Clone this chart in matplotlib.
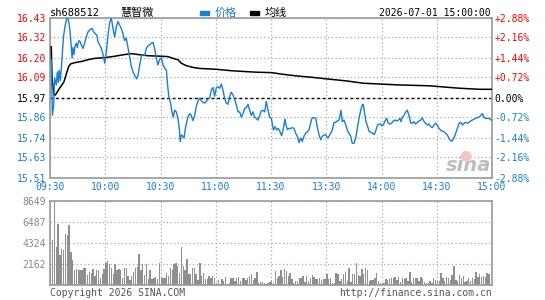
import numpy as np
import matplotlib
matplotlib.use("Agg")
import matplotlib.pyplot as plt

plt.rcParams['font.family'] = ['DejaVu Sans Mono', 'Noto Sans CJK SC']

# ---- data ----
code = "sh688512"
name = "慧智微"
stamp = "2026-07-01 15:00:00"
prev_close = 15.97

price_levels = [16.43, 16.32, 16.20, 16.09, 15.97, 15.86, 15.74, 15.63, 15.51]
pct_labels = ["+2.88%", "+2.16%", "+1.44%", "+0.72%", "0.00%",
              "-0.72%", "-1.44%", "-2.16%", "-2.88%"]
time_labels = ["09:30", "10:00", "10:30", "11:00", "11:30",
               "13:30", "14:00", "14:30", "15:00"]
vol_levels = [2162, 4324, 6487, 8649]

# minute offset from 09:30 (lunch break removed), price
price_min = [0.7, 1.3, 2.0, 2.5, 3.4, 4.0, 4.5, 5.0, 5.6, 6.3, 6.9, 7.4, 8.3, 9.2, 10.0,
             10.7, 11.2, 12.0, 12.5, 13.0, 13.6, 14.3, 14.8, 15.6, 16.3, 17.0, 17.9, 18.8,
             19.7, 20.6, 21.9, 22.8, 23.7, 24.6, 25.5, 26.0, 27.0, 27.9, 28.8, 29.7, 30.6,
             31.5, 32.4, 33.3, 34.2, 35.1, 36.0, 36.9, 37.8, 38.7, 39.6, 40.5, 41.4, 42.4,
             43.3, 44.2, 45.1, 46.0, 47.1, 47.8, 48.7, 49.6, 50.5, 51.4, 52.3, 53.2, 54.1,
             55.0, 55.9, 56.8, 57.7, 58.6, 59.5, 60.5, 61.4, 62.3, 63.2, 63.7, 64.5, 65.5,
             66.2, 66.9, 67.7, 68.6, 69.5, 70.2, 70.7, 71.3, 72.2, 72.8, 73.5, 74.2, 74.9,
             75.8, 76.7, 77.6, 78.6, 79.4, 80.4, 81.3, 82.2, 83.1, 84.0, 84.9, 85.8, 86.7,
             87.6, 88.5, 89.4, 90.3, 91.2, 92.1, 93.0, 93.9, 94.8, 95.7, 96.6, 97.6, 98.4,
             99.4, 100.3, 101.2, 102.1, 103.0, 103.9, 104.8, 105.7, 106.6, 107.5, 108.4,
             109.3, 110.2, 111.1, 112.0, 112.9, 113.9, 114.7, 115.6, 116.6, 117.4, 118.4,
             119.3, 120.2, 121.3, 122.2, 123.1, 124.0, 124.9, 125.8, 126.7, 127.6, 128.1,
             128.9, 129.8, 130.7, 131.6, 132.5, 133.4, 134.3, 135.2, 136.1, 137.0, 137.9,
             138.8, 139.7, 140.6, 141.5, 142.4, 143.3, 144.3, 145.1, 146.1, 147.0, 147.9,
             148.8, 149.7, 150.6, 151.5, 152.4, 153.3, 154.2, 155.1, 156.0, 156.9, 157.5,
             158.0, 158.7, 159.6, 160.6, 161.4, 162.3, 163.3, 164.1, 165.1, 166.0, 166.9,
             167.8, 168.7, 169.6, 170.1, 170.7, 171.6, 172.5, 173.4, 174.3, 175.2, 176.1,
             177.0, 177.9, 178.8, 179.7, 180.1, 181.0, 181.9, 182.8, 183.7, 184.6, 185.5,
             186.4, 187.3, 188.2, 189.1, 190.0, 190.6, 191.3, 192.2, 193.1, 194.0, 194.9,
             195.9, 196.7, 197.6, 198.5, 199.4, 200.4, 201.3, 202.1, 203.1, 204.0, 204.9,
             205.8, 206.7, 207.6, 208.5, 209.4, 210.3, 211.2, 212.1, 213.0, 213.9, 214.9,
             215.7, 216.6, 217.6, 218.4, 219.4, 220.3, 221.2, 222.1, 223.0, 223.9, 224.8,
             225.7, 226.6, 227.5, 228.4, 229.3, 230.2, 231.2, 232.0, 233.0, 233.9, 234.8,
             235.7, 236.6, 237.5, 238.4, 239.5, 240.0]
price = [16.19, 15.87, 15.93, 16.085, 16.045, 16.12, 16.06, 16.13, 16.07, 16.16, 16.26,
         16.33, 16.39, 16.43, 16.42, 16.37, 16.315, 16.20, 16.26, 16.22, 16.27, 16.285,
         16.26, 16.30, 16.295, 16.275, 16.255, 16.285, 16.32, 16.35, 16.365, 16.37, 16.35,
         16.34, 16.33, 16.295, 16.275, 16.255, 16.22, 16.17, 16.235, 16.33, 16.405, 16.43,
         16.37, 16.32, 16.38, 16.41, 16.39, 16.37, 16.34, 16.30, 16.315, 16.255, 16.20,
         16.15, 16.12, 16.10, 16.08, 16.10, 16.16, 16.21, 16.22, 16.215, 16.255, 16.27,
         16.275, 16.285, 16.29, 16.255, 16.20, 16.16, 16.19, 16.20, 16.16, 16.14, 16.13,
         16.06, 15.98, 15.94, 15.89, 15.86, 15.90, 15.89, 15.85, 15.795, 15.72, 15.757,
         15.75, 15.74, 15.795, 15.83, 15.86, 15.88, 15.87, 15.84, 15.87, 15.92, 15.953,
         15.97, 15.953, 15.945, 15.94, 15.953, 15.965, 15.97, 16.016, 16.03, 15.98, 16.03,
         16.035, 16.026, 16.05, 16.016, 15.97, 15.94, 15.934, 15.98, 16.003, 15.987, 15.96,
         15.93, 15.89, 15.89, 15.86, 15.88, 15.91, 15.914, 15.934, 15.90, 15.87, 15.89,
         15.86, 15.853, 15.843, 15.87, 15.895, 15.90, 15.89, 15.95, 15.90, 15.86, 15.853,
         15.786, 15.805, 15.786, 15.795, 15.776, 15.753, 15.795, 15.85, 15.815, 15.788,
         15.795, 15.795, 15.80, 15.795, 15.767, 15.75, 15.713, 15.74, 15.72, 15.75, 15.767,
         15.776, 15.786, 15.825, 15.857, 15.857, 15.853, 15.805, 15.757, 15.73, 15.75,
         15.757, 15.76, 15.74, 15.75, 15.767, 15.786, 15.83, 15.83, 15.838, 15.843, 15.87,
         15.90, 15.834, 15.843, 15.815, 15.786, 15.767, 15.75, 15.71, 15.71, 15.74, 15.795,
         15.853, 15.90, 15.93, 15.934, 15.89, 15.834, 15.805, 15.776, 15.773, 15.767, 15.76,
         15.786, 15.815, 15.82, 15.82, 15.81, 15.815, 15.838, 15.853, 15.825, 15.82, 15.825,
         15.838, 15.843, 15.838, 15.843, 15.853, 15.834, 15.86, 15.87, 15.888, 15.90, 15.87,
         15.825, 15.825, 15.834, 15.82, 15.83, 15.838, 15.843, 15.857, 15.834, 15.825,
         15.815, 15.82, 15.805, 15.80, 15.815, 15.825, 15.815, 15.795, 15.786, 15.78,
         15.776, 15.767, 15.757, 15.74, 15.723, 15.723, 15.742, 15.767, 15.795, 15.825,
         15.83, 15.815, 15.825, 15.83, 15.825, 15.83, 15.838, 15.843, 15.848, 15.853,
         15.857, 15.86, 15.87, 15.88, 15.857, 15.853, 15.853, 15.853, 15.843, 15.843]

avg_min = [0.7, 1.1, 2.2, 2.9, 4.0, 5.2, 6.5, 7.6, 8.9, 10.1, 11.2, 13.4, 17.0, 20.6, 24.3,
           29.7, 35.1, 40.6, 44.2, 47.8, 53.2, 58.6, 64.1, 66.8, 69.5, 71.3, 74.0, 77.6,
           81.3, 90.3, 98.4, 107.5, 112.9, 120.2, 126.7, 133.9, 141.2, 150.2, 161.1, 170.1,
           179.7, 190.0, 206.3, 215.4, 222.6, 233.5, 240.0]
avg_price = [16.265, 16.083, 15.987, 15.987, 16.006, 16.026, 16.045, 16.064, 16.11, 16.15,
             16.166, 16.173, 16.18, 16.19, 16.198, 16.202, 16.21, 16.22, 16.225, 16.22,
             16.213, 16.211, 16.208, 16.198, 16.19, 16.17, 16.156, 16.146, 16.14, 16.135,
             16.127, 16.121, 16.118, 16.116, 16.106, 16.097, 16.09, 16.08, 16.068, 16.055,
             16.05, 16.045, 16.04, 16.032, 16.026, 16.02, 16.02]

volume = [1784, 4596, 8649, 3945, 6243, 3053, 3670, 3567, 5214, 5111, 6140, 3396, 2538,
          1509, 1612, 1509, 1509, 1509, 1784, 1784, 1029, 1372, 1269, 1612, 926, 1509,
          1509, 755, 1166, 1612, 2298, 2470, 2127, 1784, 1166, 2127, 1509, 1612, 1509, 755,
          1715, 1784, 926, 480, 926, 1372, 1715, 1852, 3156, 1509, 2127, 1029, 2127, 583,
          1509, 583, 755, 823, 583, 2298, 823, 686, 755, 1269, 926, 1784, 1509, 2195, 2298,
          1955, 1269, 3910, 1955, 1509, 2710, 1166, 1166, 1715, 1715, 1166, 480, 2298, 926,
          1269, 583, 583, 926, 755, 926, 755, 240, 480, 137, 583, 412, 823, 137, 240, 755,
          755, 412, 755, 823, 412, 755, 755, 480, 755, 926, 1166, 480, 755, 1372, 240, 343,
          343, 240, 137, 240, 343,
          480, 240, 1441, 755, 926, 1509, 823, 1612, 1441, 926, 1269, 583, 240, 412, 412,
          755, 755, 926, 343, 926, 412, 686, 1029, 823, 652, 652, 755, 480, 583, 583, 1166,
          583, 755, 240, 240, 1269, 1098, 412, 583, 1098, 1372, 412, 1715, 343, 1098, 1166,
          2298, 1029, 926, 1612, 1166, 1715, 1509, 412, 480, 480, 755, 1269, 412, 240, 240,
          240, 583, 480, 583, 686, 755, 823, 480, 823, 343, 755, 583, 755, 412, 1372, 343,
          686, 755, 686, 412, 823, 583, 343, 240, 240, 412, 240, 686, 480, 412, 412, 1269,
          686, 412, 823, 755, 480, 1029, 1955, 480, 412, 1029, 686, 892, 343, 412, 686, 412,
          755, 583, 1372, 823, 1166, 823, 926, 823, 1269, 1166]

# ---- styling ----
red = '#ff0000'
blue = '#1a7fd0'
grey = '#999999'
fs = 7

fig = plt.figure(figsize=(5.45, 3.00), dpi=100)
ax = fig.add_axes([50 / 545, 1 - 178 / 300, 442 / 545, 160 / 300])
axv = fig.add_axes([50 / 545, 1 - 285 / 300, 442 / 545, 84 / 300])

for a in (ax, axv):
    for s in a.spines.values():
        s.set_color(grey)
        s.set_linewidth(1.2)
    a.set_xlim(0, 240)
    a.set_xticks(np.arange(0, 241, 30))
    a.tick_params(length=0)
    a.grid(True, ls=(0, (1, 2)), color='#aaaaaa', lw=0.9)
    a.set_axisbelow(True)

# price panel
ax.set_ylim(price_levels[-1], price_levels[0])
ax.set_yticks(price_levels, [f"{v:.2f}" for v in price_levels])
ax.tick_params(axis='y', pad=3, labelsize=fs)
for lab, v in zip(ax.get_yticklabels(), price_levels):
    lab.set_color(red if v > prev_close + 1e-6 else ('black' if abs(v - prev_close) < 1e-6 else blue))
ax.set_xticklabels(time_labels, color=blue, fontsize=fs)
ax.tick_params(axis='x', pad=3)

ax2 = ax.twinx()
ax2.set_ylim(ax.get_ylim())
ax2.set_yticks(price_levels, pct_labels)
ax2.tick_params(length=0, pad=2, labelsize=fs)
for s in ax2.spines.values():
    s.set_visible(False)
for lab, t in zip(ax2.get_yticklabels(), pct_labels):
    lab.set_color(red if t.startswith('+') else (blue if t.startswith('-') else 'black'))

ax.axhline(prev_close, color='black', ls=(0, (2, 2)), lw=1)
ax.plot(avg_min, avg_price, color='black', lw=1.1, zorder=3)
ax.plot(price_min, price, color=blue, lw=1.0, zorder=4)

# watermark
ax.text(227, 15.55, "sina", color='#bdbdbd', fontsize=14, fontstyle='italic',
        fontweight='bold', family='DejaVu Sans', ha='center', va='baseline', zorder=1)
ax.scatter([226], [15.635], s=60, color='#f7c4c4', zorder=1, edgecolors='none')

# volume panel
axv.bar(np.arange(len(volume)), volume, width=0.75, color='#8f8f8f', align='edge',
        antialiased=False)
axv.set_ylim(0, vol_levels[-1])
axv.set_yticks(vol_levels, [str(v) for v in vol_levels])
axv.tick_params(axis='y', labelsize=fs, labelcolor='#888888', pad=3)
axv.set_xticklabels([])

# header
fig.text(50 / 545, 1 - 13 / 300, code, fontsize=fs + 0.5, va='center', ha='left')
fig.text(120 / 545, 1 - 13 / 300, name, fontsize=fs + 1, va='center', ha='left')
fig.patches.append(plt.Rectangle((200 / 545, 1 - 14.5 / 300), 9 / 545, 3 / 300,
                                 transform=fig.transFigure, color=blue))
fig.text(215 / 545, 1 - 13 / 300, "价格", fontsize=fs + 1, color=blue, va='center', ha='left')
fig.patches.append(plt.Rectangle((250 / 545, 1 - 14.5 / 300), 9 / 545, 3 / 300,
                                 transform=fig.transFigure, color='black'))
fig.text(265 / 545, 1 - 13 / 300, "均线", fontsize=fs + 1, va='center', ha='left')
fig.text(491 / 545, 1 - 13 / 300, stamp, fontsize=fs, va='center', ha='right')

# footer
fig.text(50 / 545, 1 - 293 / 300, "Copyright 2026 SINA.COM", fontsize=fs, color='#555555',
         va='center', ha='left')
fig.text(492 / 545, 1 - 293 / 300, "http://finance.sina.com.cn", fontsize=fs, color='#555555',
         va='center', ha='right')

fig.savefig("out.png", dpi=100, facecolor='white')
